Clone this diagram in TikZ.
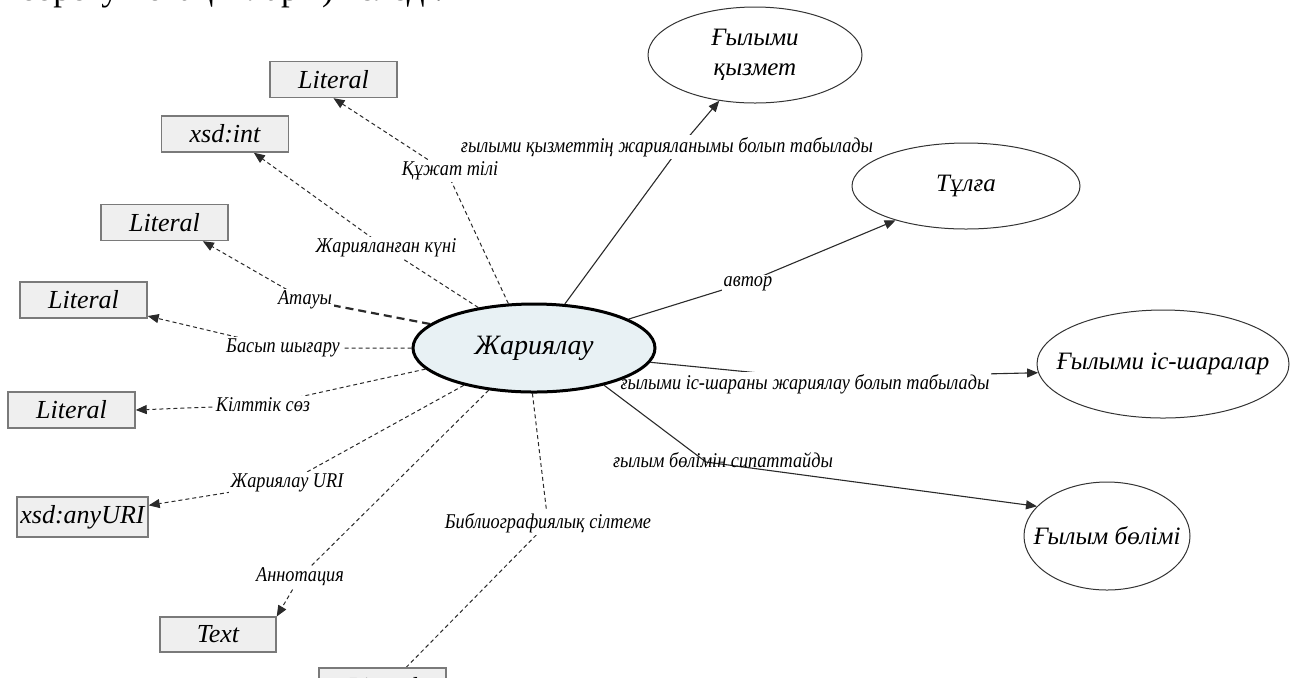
\documentclass[tikz,border=0pt]{standalone}
\usepackage{fontspec}
\setmainfont{Liberation Serif}
\newfontfamily\narrowserif{Liberation Serif}[FakeStretch=0.87]
\usetikzlibrary{shapes.geometric,arrows.meta}

\definecolor{boxfill}{HTML}{EFEFEF}
\definecolor{boxline}{HTML}{7A7A7A}
\definecolor{hubfill}{HTML}{E8F1F4}
\definecolor{linkcol}{HTML}{2A2A2A}

\pgfdeclarelayer{links}
\pgfsetlayers{links,main}

\begin{document}
\begin{tikzpicture}[x=0.5pt,y=-0.5pt,
  box/.style={draw=boxline, fill=boxfill, line width=0.7pt,
    minimum width=63.5pt, minimum height=18pt, inner sep=0pt,
    font=\fontsize{13}{15}\selectfont\itshape},
  hub/.style={ellipse, draw=black, fill=hubfill, line width=1.5pt,
    minimum width=121pt, minimum height=44pt, inner sep=0pt,
    font=\fontsize{14}{16}\selectfont\itshape},
  cls/.style={ellipse, draw=black!80, line width=0.5pt, inner sep=0pt,
    align=center, font=\fontsize{12.5}{15}\selectfont\itshape},
  lbl/.style={fill=white, inner sep=1pt,
    font=\narrowserif\fontsize{10.5}{12}\selectfont\itshape},
  lblclear/.style={inner sep=1pt,
    font=\narrowserif\fontsize{10.5}{12}\selectfont\itshape},
  dprop/.style={draw=linkcol, line width=0.5pt, dash pattern=on 2pt off 1.5pt},
  dthick/.style={draw=linkcol, line width=1.1pt, dash pattern=on 4pt off 2.5pt},
  oprop/.style={draw=linkcol, line width=0.55pt},
  tip/.style={-{Triangle[length=5.5pt,width=4.5pt]}}
]
\useasboundingbox (0,0) rectangle (1296,677);

% running text line of the page above the figure
\node[anchor=base west, inner sep=0pt, font=\fontsize{17.5}{19}\selectfont] (runline) at (0,0)
  {Теорету нотациялары) келеді.};

% central class
\node[hub] (C) at (534,348) {Жариялау};

% related classes
\node[cls, minimum width=107pt, minimum height=48pt] (GK) at (755,55) {Ғылыми\\қызмет};
\node[cls, minimum width=114pt, minimum height=43pt] (TL) at (966,186) {Тұлға};
\node[cls, minimum width=126pt, minimum height=54pt, inner xsep=-14pt] (IS) at (1163,364) {Ғылыми іс-шаралар};
\node[cls, minimum width=83pt, minimum height=54pt, inner xsep=-10pt] (GB) at (1107,536) {Ғылым бөлімі};

% datatype boxes
\node[box] (L1) at (333.5,79.5) {Literal};
\node[box] (X1) at (225,134) {xsd:int};
\node[box] (L2) at (164.5,222.5) {Literal};
\node[box] (L3) at (83.5,300) {Literal};
\node[box] (L4) at (71.5,410) {Literal};
\node[box, minimum width=65.5pt, minimum height=20pt] (U) at (82.5,517) {xsd:anyURI};
\node[box, minimum width=58pt, minimum height=17.5pt] (T) at (218,634.5) {Text};
\node[box, minimum height=18.5pt] (L5) at (382.5,686.5) {Literal};

% bend points of the connectors
\coordinate (b1) at (447,172);
\coordinate (b2) at (386,248);
\coordinate (b3) at (305,300);
\coordinate (b4) at (283,348);
\coordinate (b5) at (263,405);
\coordinate (b6) at (287,483);
\coordinate (b7) at (300,577);
\coordinate (b8) at (548,523);
\coordinate (b9) at (680,147);
\coordinate (b10) at (748,282);
\coordinate (b11) at (810,378);
\coordinate (b12) at (706,462);

\begin{pgfonlayer}{links}
% datatype properties
\draw[dprop, tip] (C.120) -- (b1) -- (L1.south);
\draw[dprop, tip] (C.144) -- (b2) -- (X1.-33);
\draw[dthick] (C.167) -- (b3);
\draw[dprop, tip] (b3) -- (L2.-26);
\draw[dprop, tip] (C.180) -- (b4) -- (L3.-14);
\draw[dprop, tip] (C.191) -- (b5) -- (L4.east);
\draw[dprop, tip] (C.208) -- (b6) -- (U.10);
\draw[dprop, tip] (C.223) -- (b7) -- (T.17);
\draw[dprop] (C.268) -- (b8) -- (L5.39);

% object properties
\draw[oprop, tip] (C.55) -- (b9) -- (GK.232);
\draw[oprop, tip] (C.17) -- (b10) -- (TL.206);
\draw[oprop, tip] (C.-7) -- (b11) -- (IS.184);
\draw[oprop, tip] (C.-28) -- (b12) -- (GB.157);

% property names
\node[lbl] (n1) at (450,171) {Құжат тілі};
\node[lbl] (n2) at (386,248) {Жарияланған күні};
\node[lbl] (n3) at (305,300) {Атауы};
\node[lbl] (n4) at (283,348) {Басып шығару};
\node[lbl] (n5) at (263,405) {Кілттік сөз};
\node[lbl] (n6) at (287,483) {Жариялау URI};
\node[lbl] (n7) at (300,577) {Аннотация};
\node[lbl] (n8) at (548,523) {Библиографиялық сілтеме};
\node[lbl] (n9) at (667,147) {ғылыми қызметтің жарияланымы болып табылады};
\node[lbl] (n10) at (748,284) {автор};
\node[lbl] (n11) at (805,384) {ғылыми іс-шараны жариялау болып табылады};
\node[lblclear] (n12) at (723,460) {ғылым бөлімін сипаттайды};
\end{pgfonlayer}
\end{tikzpicture}
\end{document}
